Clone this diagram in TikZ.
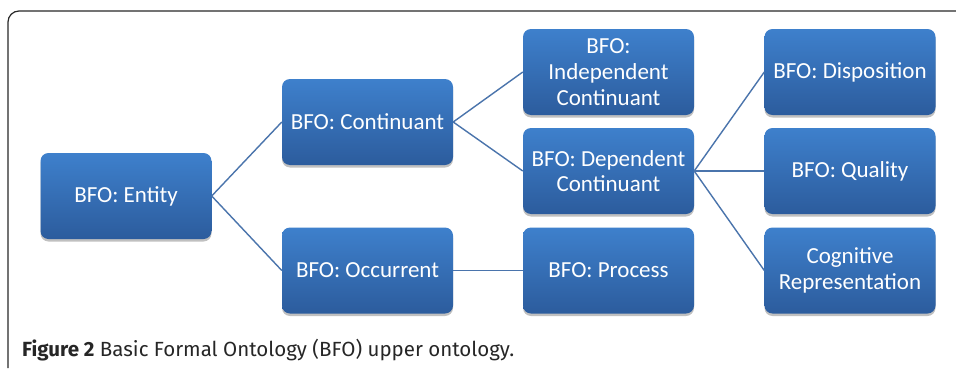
\documentclass[tikz,border=0pt]{standalone}
\usepackage{fontspec}
\setmainfont{Carlito}
\newfontfamily\capfont{Fira Sans}
\usetikzlibrary{shadows}
\definecolor{boxtop}{RGB}{62,128,204}
\definecolor{boxbot}{RGB}{44,92,157}
\definecolor{linkc}{RGB}{74,116,172}
\definecolor{framec}{RGB}{40,40,40}
\tikzset{
  bfobox/.style={rectangle, rounded corners=8pt, minimum width=171pt, minimum height=86pt,
    top color=boxtop, bottom color=boxbot, draw=none, text=white, align=center,
    font=\fontsize{23}{25.8}\selectfont, inner sep=2pt,
    drop shadow={shadow xshift=0pt, shadow yshift=-2.5pt, opacity=0.35, fill=black!70}},
  link/.style={draw=linkc, line width=1.4pt},
}
\begin{document}
\begin{tikzpicture}[x=1pt,y=1pt]
\useasboundingbox (0,0) rectangle (956,368);
\fill[white] (0,0) rectangle (956,368);
\draw[framec, line width=1.2pt] (8,0) -- (8,346) arc (180:90:11) -- (956,357);
\node[bfobox] (entity) at (126,172) {BFO: Entity};
\node[bfobox] (cont) at (367.5,246) {BFO: Continuant};
\node[bfobox] (occ) at (367.5,97.5) {BFO: Occurrent};
\node[bfobox] (indep) at (608.5,296) {BFO:\\Independent\\Continuant};
\node[bfobox] (dep) at (608.5,197) {BFO: Dependent\\Continuant};
\node[bfobox] (proc) at (608.5,97.5) {BFO: Process};
\node[bfobox] (disp) at (850,296) {BFO: Disposition};
\node[bfobox] (qual) at (850,197) {BFO: Quality};
\node[bfobox] (cog) at (850,97.5) {Cognitive\\Representation};
\draw[link] (entity.east) -- (cont.west);
\draw[link] (entity.east) -- (occ.west);
\draw[link] (cont.east) -- (indep.west);
\draw[link] (cont.east) -- (dep.west);
\draw[link] (occ.east) -- (proc.west);
\draw[link] (dep.east) -- (disp.west);
\draw[link] (dep.east) -- (qual.west);
\draw[link] (dep.east) -- (cog.west);
\node[anchor=base west, inner sep=0pt, text=black!85, font=\capfont\fontsize{20.5}{24}\selectfont] (cap) at (22,12) {\textbf{Figure 2} Basic Formal Ontology (BFO) upper ontology.};
\end{tikzpicture}
\end{document}
